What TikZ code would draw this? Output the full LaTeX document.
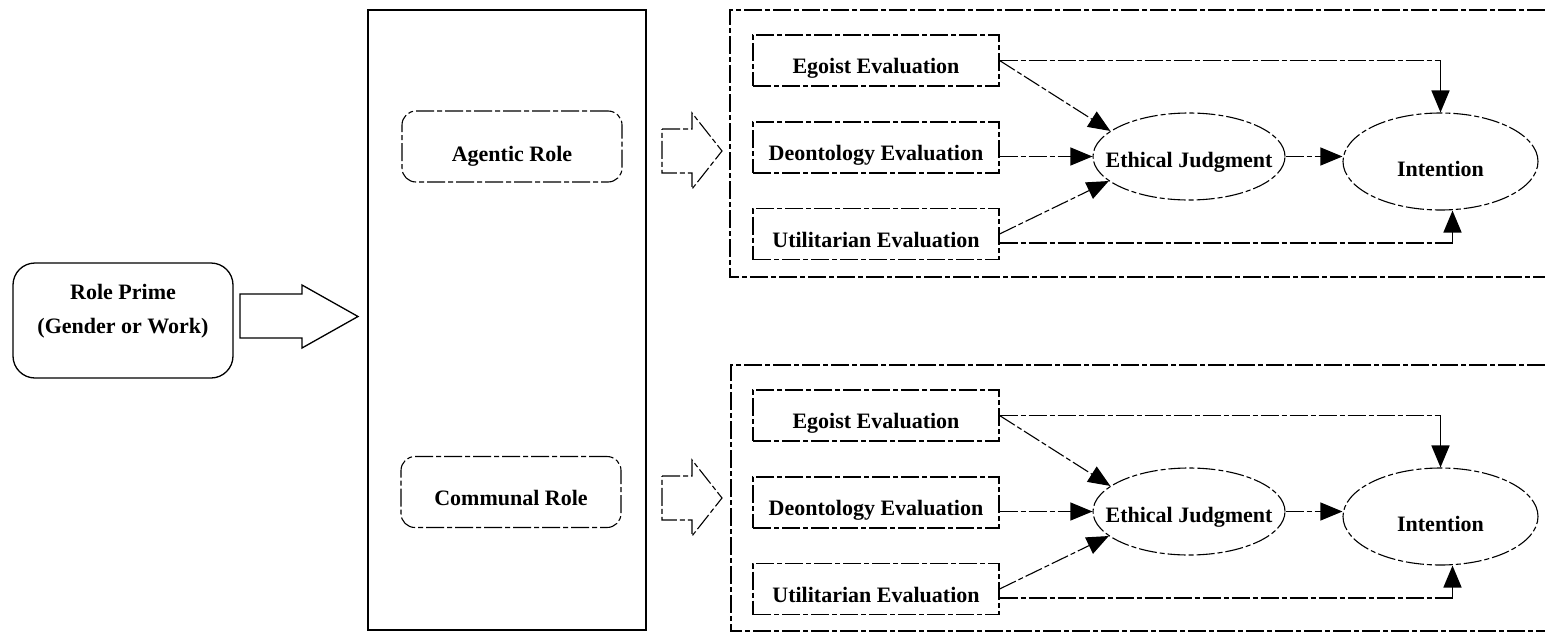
\documentclass[tikz,border=0pt]{standalone}
\usepackage{fontspec}
\setmainfont{Liberation Serif}
\usetikzlibrary{arrows.meta,shapes.geometric,calc}
\newcommand{\lowtext}[2]{\raisebox{-#1}[0pt][0pt]{#2}}
\begin{document}
\begin{tikzpicture}[x=1pt,y=-1pt,
  every node/.style={font=\fontsize{22}{34}\selectfont\bfseries},
  solidl/.style={draw,line width=1.3pt},
  vsolid/.style={draw,line width=1.6pt},
  dashl/.style={draw,line width=1.1pt,dash pattern=on 18pt off 3pt on 5pt off 3pt},
  evalbox/.style={dashl,rectangle,minimum width=246pt,minimum height=51pt,inner sep=0pt},
  rolebox/.style={dashl,rounded corners=14pt,minimum width=220pt,minimum height=71pt,inner sep=0pt},
  ell/.style={dashl,ellipse,inner sep=0pt},
  tip/.style={-{Triangle[length=22pt,width=18pt]}},
]
\useasboundingbox (0,0) rectangle (1545,632);

% Role prime
\node[solidl,rounded corners=22pt,minimum width=220pt,minimum height=115pt] (rp) at (123,320.5) {};
\node[align=center] (rptext) at (123,311) {Role Prime\\(Gender or Work)};

% big block arrow
\draw[solidl] (240,294) -- (302,294) -- (302,285) -- (358,316.5) -- (302,348) -- (302,338) -- (240,338) -- cycle;

% middle box
\draw[solidl] (368,10) rectangle (646,630);
\node[rolebox] (ag) at (512,146.5) {\lowtext{15pt}{Agentic Role}};
\node[rolebox] (co) at (511,492) {\lowtext{13pt}{Communal Role}};

% small block arrows
\foreach \c in {151,498} {
  \draw[dashl] (662,{\c-22}) -- (692,{\c-22}) -- (692,{\c-38}) -- (722,\c) -- (692,{\c+38}) -- (692,{\c+22}) -- (662,{\c+22}) -- cycle;
}

% right outer boxes (open at the right)
\draw[dashl] (1545,10) -- (730,10) -- (730,277) -- (1545,277);
\draw[dashl] (1545,365) -- (731,365) -- (731,631) -- (1545,631);

\foreach \i/\o in {1/0,2/355} {
  \node[evalbox] (eg\i) at (876,{60.5+\o}) {\lowtext{13pt}{Egoist Evaluation}};
  \node[evalbox] (de\i) at (876,{147.5+\o}) {\lowtext{13pt}{Deontology Evaluation}};
  \node[evalbox] (ut\i) at (876,{234+\o}) {\lowtext{13pt}{Utilitarian Evaluation}};
  \node[ell,minimum width=192pt,minimum height=87pt] (ej\i) at (1189,{156.5+\o}) {\makebox[0pt]{\lowtext{11pt}{Ethical Judgment}}};
  \node[ell,minimum width=195pt,minimum height=97pt] (in\i) at (1440.5,{161.5+\o}) {\makebox[0pt]{\lowtext{15pt}{Intention}}};

  \draw[dashl,tip] (eg\i.east) -- (ej\i.162);
  \draw[dashl,tip] (ut\i.east) -- (ej\i.197);
  \draw[dashl,tip] (de\i.east |- ej\i.west) -- (ej\i.west);
  \draw[dashl,tip] (ej\i.east) -- (in\i.west |- ej\i.east);

  \coordinate (ca\i) at (eg\i.east -| in\i.north);
  \draw[dashl] (eg\i.east) -- (ca\i);
  \draw[vsolid,tip] (ca\i) -- (in\i.north);

  \coordinate (u\i) at ([yshift=-9pt]ut\i.east);
  \coordinate (v\i) at ([xshift=12pt]in\i.south);
  \coordinate (cb\i) at (u\i -| v\i);
  \draw[dashl] (u\i) -- (cb\i);
  \draw[vsolid,tip] (cb\i) -- (v\i);
}
\end{tikzpicture}
\end{document}
